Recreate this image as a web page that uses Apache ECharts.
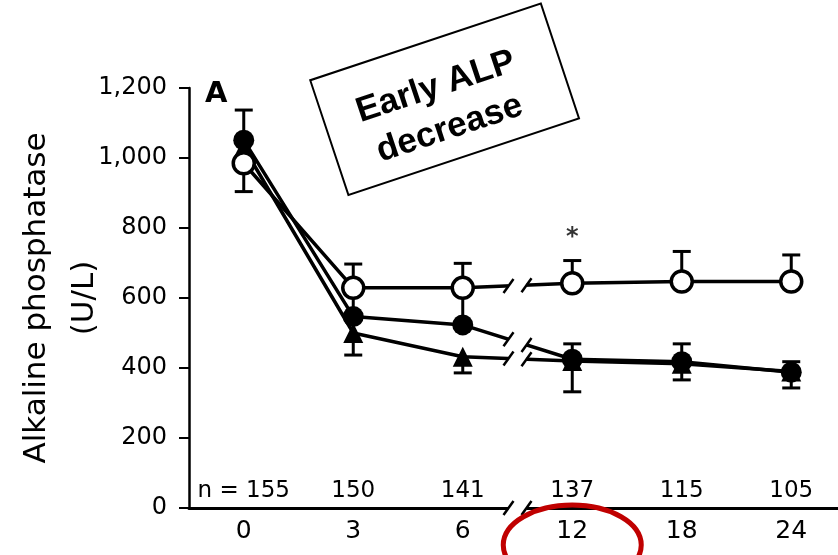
<!DOCTYPE html>
<html>
<head>
<meta charset="utf-8">
<script src="https://cdn.jsdelivr.net/npm/echarts@6/dist/echarts.min.js"></script>
<style>
html,body{margin:0;padding:0;background:#fff}
#chart{width:838px;height:555px}
</style>
</head>
<body>
<div id="chart"></div>
<script>
// months after start, with patient counts
var months = ['0', '3', '6', '12', '18', '24'];
var nCounts = ['n = 155', '150', '141', '137', '115', '105'];
// ALP means (U/L)
var openCircle = [985, 629, 629, 642, 647, 647];
var filledCircle = [1051, 547, 523, 425, 418, 388];
var triangle = [1030, 500, 432, 420, 412, 390];
// where each error bar ends (null = not drawn)
var openErrEnd = [904, 697, 699, 707, 733, 723];
var filledErrEnd = [1137, 620, 620, 469, 469, 418];
var triangleErrEnd = [null, 437, 386, 332, 366, 343];
var starPoint = [[3, 772]];

var chart = echarts.init(document.getElementById('chart'));
var font = 'DejaVu Sans';

function errData(vals, ends) {
  var out = [];
  vals.forEach(function (v, i) {
    if (ends[i] != null) out.push([i, v, ends[i]]);
  });
  return out;
}

function renderErr(params, api) {
  var x = api.value(0);
  var p0 = api.coord([x, api.value(1)]);
  var p1 = api.coord([x, api.value(2)]);
  var st = { stroke: '#000', lineWidth: 3 };
  return {
    type: 'group',
    children: [
      { type: 'line', shape: { x1: p0[0], y1: p0[1], x2: p1[0], y2: p1[1] }, style: st },
      { type: 'line', shape: { x1: p1[0] - 9, y1: p1[1], x2: p1[0] + 9, y2: p1[1] }, style: st }
    ]
  };
}

function lineSeries(name, data, symbol, fill) {
  return {
    name: name,
    type: 'line',
    data: data,
    symbol: symbol,
    symbolSize: symbol === 'triangle' ? 20 : 21,
    lineStyle: { color: '#000', width: 3.5 },
    itemStyle: { color: fill, borderColor: '#000', borderWidth: fill === '#fff' ? 3.5 : 0 },
    z: 3
  };
}

function errSeries(data) {
  return { type: 'custom', renderItem: renderErr, data: data, z: 1, silent: true };
}

chart.setOption({
  animation: false,
  grid: { left: 189, right: -8, top: 88, bottom: 47, outerBoundsMode: 'none', containLabel: false },
  xAxis: [{
    type: 'category',
    data: months,
    boundaryGap: true,
    axisLine: { lineStyle: { color: '#000', width: 3 } },
    axisTick: { alignWithLabel: true, length: 7, lineStyle: { color: '#000', width: 3 } },
    axisLabel: { interval: 0, color: '#000', fontFamily: font, fontSize: 25, margin: 11 },
    splitLine: { show: false }
  }, {
    type: 'category',
    data: nCounts,
    position: 'bottom',
    boundaryGap: true,
    axisLine: { show: false },
    axisTick: { show: false },
    axisLabel: { interval: 0, inside: true, color: '#000', fontFamily: font, fontSize: 23, margin: 5 },
    splitLine: { show: false }
  }],
  yAxis: {
    type: 'value',
    min: 0,
    max: 1200,
    interval: 200,
    name: 'Alkaline phosphatase\n(U/L)',
    nameLocation: 'middle',
    nameRotate: 90,
    nameGap: 80,
    nameMoveOverlap: false,
    nameTextStyle: { color: '#000', fontFamily: font, fontSize: 31, lineHeight: 48 },
    axisLine: { show: true, lineStyle: { color: '#000', width: 2.5 } },
    axisTick: { show: true, length: 10, lineStyle: { color: '#000', width: 2 } },
    axisLabel: {
      color: '#000', fontFamily: font, fontSize: 24, margin: 22,
      formatter: function (v) { return v.toLocaleString('en-US'); }
    },
    splitLine: { show: false }
  },
  series: [
    errSeries(errData(triangle, triangleErrEnd)),
    errSeries(errData(filledCircle, filledErrEnd)),
    errSeries(errData(openCircle, openErrEnd)),
    lineSeries('triangle', triangle, 'triangle', '#000'),
    lineSeries('filled', filledCircle, 'circle', '#000'),
    lineSeries('open', openCircle, 'circle', '#fff'),
    {
      type: 'scatter',
      data: starPoint,
      symbolSize: 0,
      label: { show: true, formatter: '*', color: '#000', fontFamily: font, fontWeight: 'bold', fontSize: 24, position: 'inside' }
    }
  ]
});

// axis breaks between 6 and 12 months, plus annotations
var g = [];
function addBreak(yA, yB) {
  var pA = chart.convertToPixel({ xAxisIndex: 0, yAxisIndex: 0 }, [2, yA]);
  var pB = chart.convertToPixel({ xAxisIndex: 0, yAxisIndex: 0 }, [3, yB]);
  var mid = (pA[0] + pB[0]) / 2;
  function yAt(x) { return pA[1] + (pB[1] - pA[1]) * (x - pA[0]) / (pB[0] - pA[0]); }
  var x1 = mid - 9, x2 = mid + 9;
  g.push({ type: 'line', z: 100, shape: { x1: x1, y1: yAt(x1), x2: x2, y2: yAt(x2) }, style: { stroke: '#fff', lineWidth: 10 } });
  [x1, x2].forEach(function (x) {
    var y = yAt(x);
    g.push({ type: 'line', z: 101, shape: { x1: x - 5, y1: y + 7, x2: x + 5, y2: y - 7 }, style: { stroke: '#000', lineWidth: 2.5 } });
  });
}
addBreak(0, 0);
addBreak(openCircle[2], openCircle[3]);
addBreak(filledCircle[2], filledCircle[3]);
addBreak(triangle[2], triangle[3]);

var p12 = chart.convertToPixel({ xAxisIndex: 0, yAxisIndex: 0 }, [3, 0]);
g.push({
  type: 'ellipse', z: 102,
  shape: { cx: p12[0], cy: 545, rx: 69, ry: 40 },
  style: { fill: 'none', stroke: '#c00000', lineWidth: 5 }
});
g.push({
  type: 'text', z: 102, x: 205, y: 80,
  style: { text: 'A', fontFamily: font, fontWeight: 'bold', fontSize: 29, fill: '#000' }
});
g.push({
  type: 'group', x: 444, y: 99, rotation: 0.321, z: 110,
  children: [
    { type: 'rect', shape: { x: -121, y: -60, width: 243, height: 121 }, style: { fill: '#fff', stroke: '#000', lineWidth: 2 } },
    {
      type: 'text', x: -4, y: 8,
      style: {
        text: 'Early ALP\ndecrease', fontFamily: 'Liberation Sans', fontWeight: 'bold',
        fontSize: 35, lineHeight: 44, align: 'center', verticalAlign: 'middle', fill: '#000'
      }
    }
  ]
});
chart.setOption({ graphic: g });
</script>
</body>
</html>
